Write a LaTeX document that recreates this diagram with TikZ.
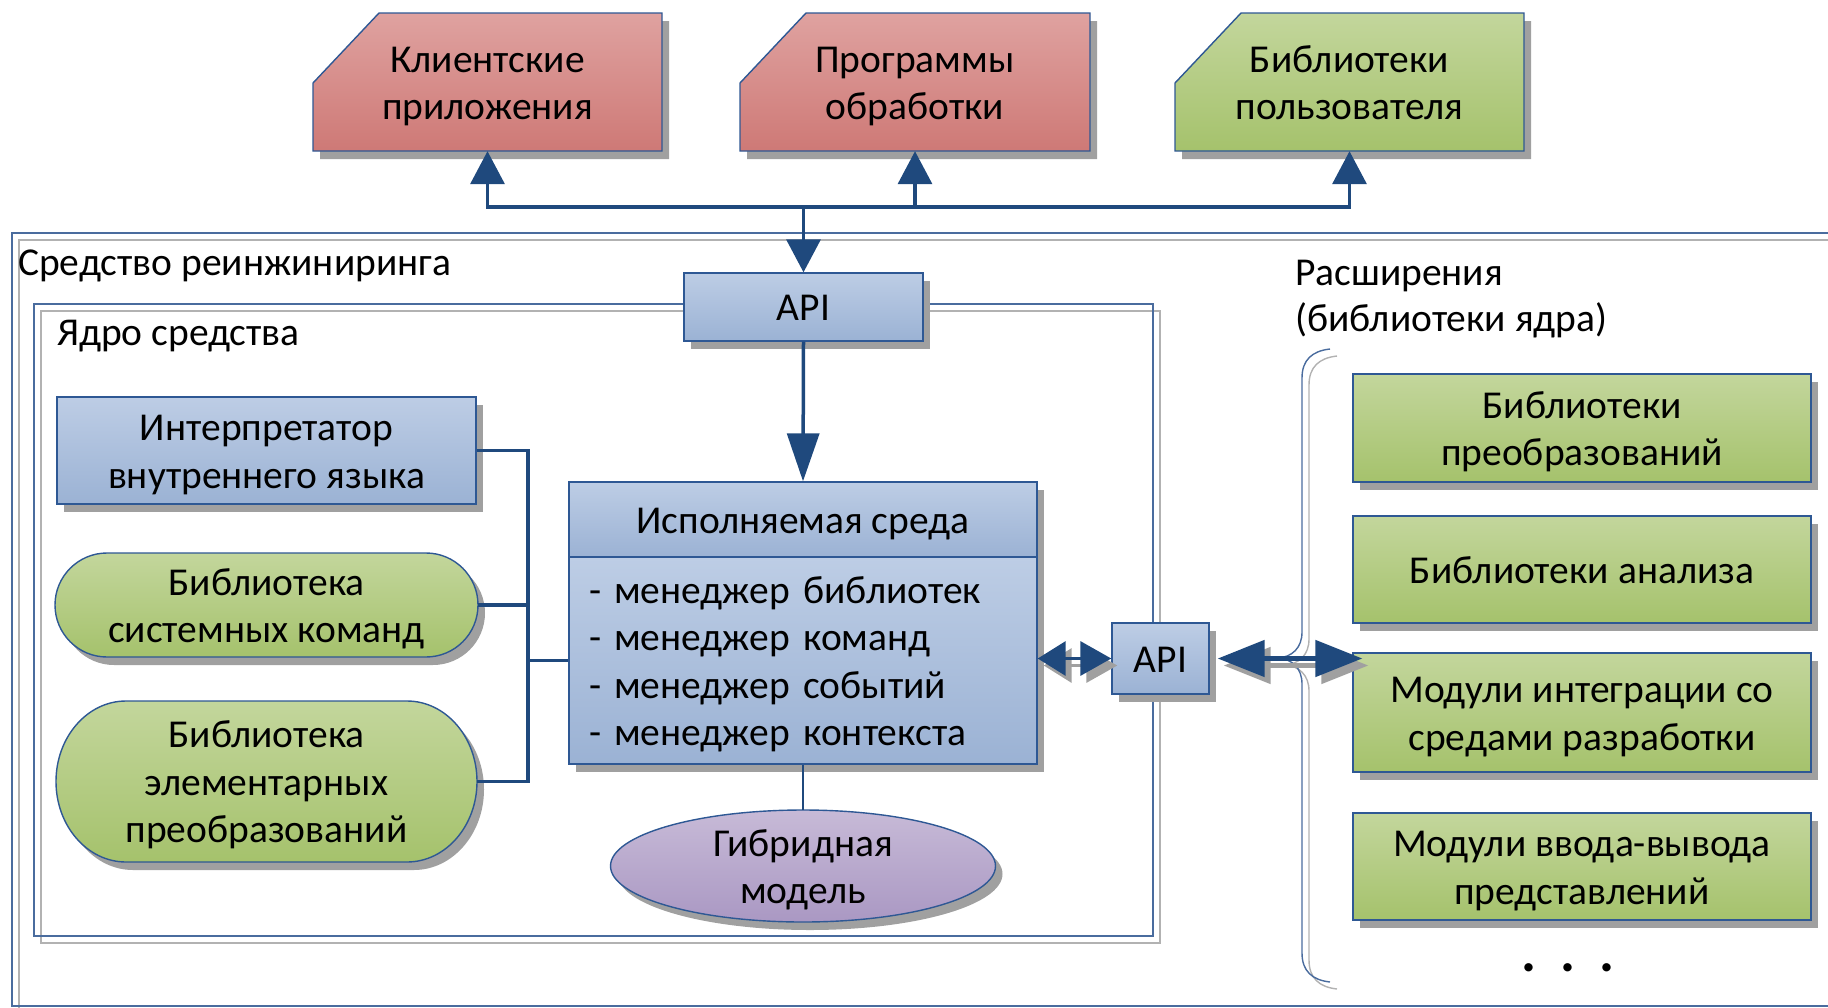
\documentclass[tikz,border=0pt]{standalone}
\usepackage{fontspec}
\setmainfont{Carlito}
\usetikzlibrary{arrows.meta,shadows}

\definecolor{blueT}{RGB}{189,205,229}
\definecolor{blueB}{RGB}{155,178,212}
\definecolor{greenT}{RGB}{195,214,156}
\definecolor{greenB}{RGB}{165,194,108}
\definecolor{redT}{RGB}{223,162,160}
\definecolor{redB}{RGB}{206,121,118}
\definecolor{violT}{RGB}{199,186,215}
\definecolor{violB}{RGB}{170,152,195}
\definecolor{edge}{RGB}{46,88,148}
\definecolor{arrc}{RGB}{31,73,125}
\definecolor{shadc}{RGB}{160,160,160}
\definecolor{frameblue}{RGB}{74,108,158}
\definecolor{framegray}{RGB}{178,178,178}

\newcommand\dfont{\fontsize{39.5pt}{47.5pt}\selectfont}
% line strut: 37.5pt above the baseline, 10pt below
\newcommand\lnstrut{\rule[-10pt]{0pt}{47.5pt}}

\tikzset{
  shade box/.style={draw=edge, line width=1.4pt,
    drop shadow={shadow xshift=7pt, shadow yshift=-8pt, opacity=1, fill=shadc}},
  bluegrad/.style={top color=blueT, bottom color=blueB},
  greengrad/.style={top color=greenT, bottom color=greenB},
  redgrad/.style={top color=redT, bottom color=redB},
  violgrad/.style={top color=violT, bottom color=violB},
  txt/.style={inner sep=0pt, font=\dfont, align=center},
  boxtxt/.style={txt, execute at begin node=\lnstrut, execute at end node=\lnstrut},
  rectbox/.style={shade box, boxtxt, rectangle},
  frameline/.style={line width=1.4pt},
  conn/.style={draw=arrc, line width=3.5pt},
  thinconn/.style={draw=arrc, line width=2pt},
  tipS/.style={-{Triangle[length=33pt,width=34pt]}},
  tipL/.style={-{Triangle[length=48pt,width=32pt]}},
  dblS/.style={{Triangle[length=28pt,width=34pt]}-{Triangle[length=31pt,width=34pt]}},
  dblL/.style={{Triangle[length=47pt,width=36pt]}-{Triangle[length=47pt,width=36pt]}},
  castshadow/.style={draw=shadc, transform canvas={xshift=6pt, yshift=-7pt}},
}

% box with its upper left corner cut off: name, colouring, x0, y0, x1, y1, text
\newcommand\chambox[7]{%
  \path[shade box,#2] ({#3+66},#4) -- (#5,#4) -- (#5,#6) -- (#3,#6) -- (#3,{#4+70}) -- cycle;
  \node[boxtxt, minimum width={#5-#3}, minimum height={#6-#4}] (#1) at ({(#3+#5)/2},{(#4+#6)/2}) {\lnstrut #7};
}
% box with half-elliptic ends: name, x0, y0, x1, y1, end radius, text
\newcommand\stadbox[7]{%
  \path[shade box, greengrad] ({#2+#6},#3) -- ({#4-#6},#3)
     arc[start angle=-90, end angle=90, x radius=#6, y radius={(#5-#3)/2}]
     -- ({#2+#6},#5)
     arc[start angle=90, end angle=270, x radius=#6, y radius={(#5-#3)/2}] -- cycle;
  \node[boxtxt, minimum width={#4-#2}, minimum height={#5-#3}] (#1) at ({(#2+#4)/2},{(#3+#5)/2}) {\lnstrut #7};
}

\begin{document}
\begin{tikzpicture}[x=1pt,y=-1pt]
\useasboundingbox (0,0) rectangle (1828,1007);
\clip (0,0) rectangle (1828,1007);

% outer frame of the tool
\draw[frameline, framegray] (19,240) rectangle (1880,1013);
\draw[frameline, frameblue] (12,233) rectangle (1873,1006);
% frame of the core
\draw[frameline, framegray] (41,311) rectangle (1160,943);
\draw[frameline, frameblue] (34,304) rectangle (1153,936);

% brace grouping the extensions
\draw[frameline, framegray, transform canvas={xshift=7pt, yshift=-7pt}]
  (1330,349) .. controls (1312,351) and (1302,360) .. (1302,378) -- (1302,632)
  .. controls (1302,648) and (1292,657) .. (1278,658)
  .. controls (1292,659) and (1302,668) .. (1302,684) -- (1302,953)
  .. controls (1302,971) and (1312,980) .. (1330,982);
\draw[frameline, frameblue]
  (1330,349) .. controls (1312,351) and (1302,360) .. (1302,378) -- (1302,632)
  .. controls (1302,648) and (1292,657) .. (1278,658)
  .. controls (1292,659) and (1302,668) .. (1302,684) -- (1302,953)
  .. controls (1302,971) and (1312,980) .. (1330,982);

% frame titles
\node[txt, anchor=base west] (tool) at (18,275) {Средство реинжиниринга};
\node[txt, anchor=base west] (core) at (57,345) {Ядро средства};
\node[txt, anchor=base west] (ext1) at (1295,285) {Расширения};
\node[txt, anchor=base west] (ext2) at (1295,331) {(библиотеки ядра)};

% external consumers
\chambox{cli}{redgrad}{313}{13}{662}{151}{Клиентские\\приложения}
\chambox{prog}{redgrad}{740}{13}{1090}{151}{Программы\\обработки}
\chambox{ulib}{greengrad}{1175}{13}{1524}{151}{Библиотеки\\пользователя}

% public interface
\node[rectbox, bluegrad, minimum width=239, minimum height=68] (api1) at (803.5,307) {API};

% core components
\node[rectbox, bluegrad, minimum width=419, minimum height=107] (interp) at (266.5,450.5)
  {\lnstrut Интерпретатор\\внутреннего языка};
\stadbox{syscmd}{55}{553}{478}{657}{52}{Библиотека\\системных команд}
\stadbox{elem}{56}{701}{477}{862}{70}{Библиотека\\элементарных\\преобразований}

\node[rectbox, bluegrad, minimum width=468, minimum height=75] (exhead) at (803,519.5)
  {Исполняемая среда};
\node[rectbox, bluegrad, minimum height=207, text width=428pt, inner xsep=20pt, align=left]
  (exbody) at (803,660.5)
  {- менеджер библиотек\\- менеджер команд\\- менеджер событий\\- менеджер контекста};

\path[shade box, violgrad] (803,866) ellipse [x radius=192.5, y radius=56];
\node[boxtxt, minimum width=385, minimum height=112] (hyb) at (803,866) {\lnstrut Гибридная\\модель};

% interface of the core for extensions
\node[rectbox, bluegrad, minimum width=97, minimum height=71] (api2) at (1160.5,658.5) {API};

% extensions
\node[rectbox, greengrad, minimum width=458, minimum height=108] (libtr) at (1582,428)
  {\lnstrut Библиотеки\\преобразований};
\node[rectbox, greengrad, minimum width=458, minimum height=107] (liban) at (1582,569.5)
  {Библиотеки анализа};
\node[rectbox, greengrad, minimum width=458, minimum height=119] (modint) at (1582,712.5)
  {\lnstrut Модули интеграции со\\средами разработки};
\node[rectbox, greengrad, minimum width=458, minimum height=107] (modio) at (1582,866.5)
  {\lnstrut Модули ввода-вывода\\представлений};
\node[inner sep=0pt, font=\fontsize{56pt}{56pt}\selectfont\bfseries] (more) at (1568,968)
  {.\hspace{24pt}.\hspace{24pt}.};

% connectors to the consumers
\coordinate (bus) at (803.5,207);
\draw[conn, tipS] (bus) -| (cli.south);
\draw[conn, tipS] (bus) -| (prog.south);
\draw[conn, tipS] (bus) -| (ulib.south);
\draw[conn, tipS] (bus) -- (api1.north);
\draw[conn, tipL] (api1.south) -- (exhead.north);

% components attached to the runtime
\coordinate (lb) at (528,0);
\draw[conn] (interp.east) -| (lb |- elem.east) -- (elem.east);
\draw[conn] (syscmd.east) -- (lb |- syscmd.east);
\draw[conn] (lb |- exbody.west) -- (exbody.west);
\draw[thinconn] (exbody.south) -- (hyb.north);

% two-way links through the inner API
\coordinate (la) at (exbody.east |- api2.west);
\path (api2.east) ++(8,0) coordinate (ltip);
\path (modint.west |- api2.east) ++(10,0) coordinate (rtip);
\draw[conn, dblS, castshadow] (la) -- (api2.west);
\draw[conn, dblS] (la) -- (api2.west);
\draw[conn, line width=5pt, dblL, castshadow] (ltip) -- (rtip);
\draw[conn, line width=5pt, dblL] (ltip) -- (rtip);
\end{tikzpicture}
\end{document}
